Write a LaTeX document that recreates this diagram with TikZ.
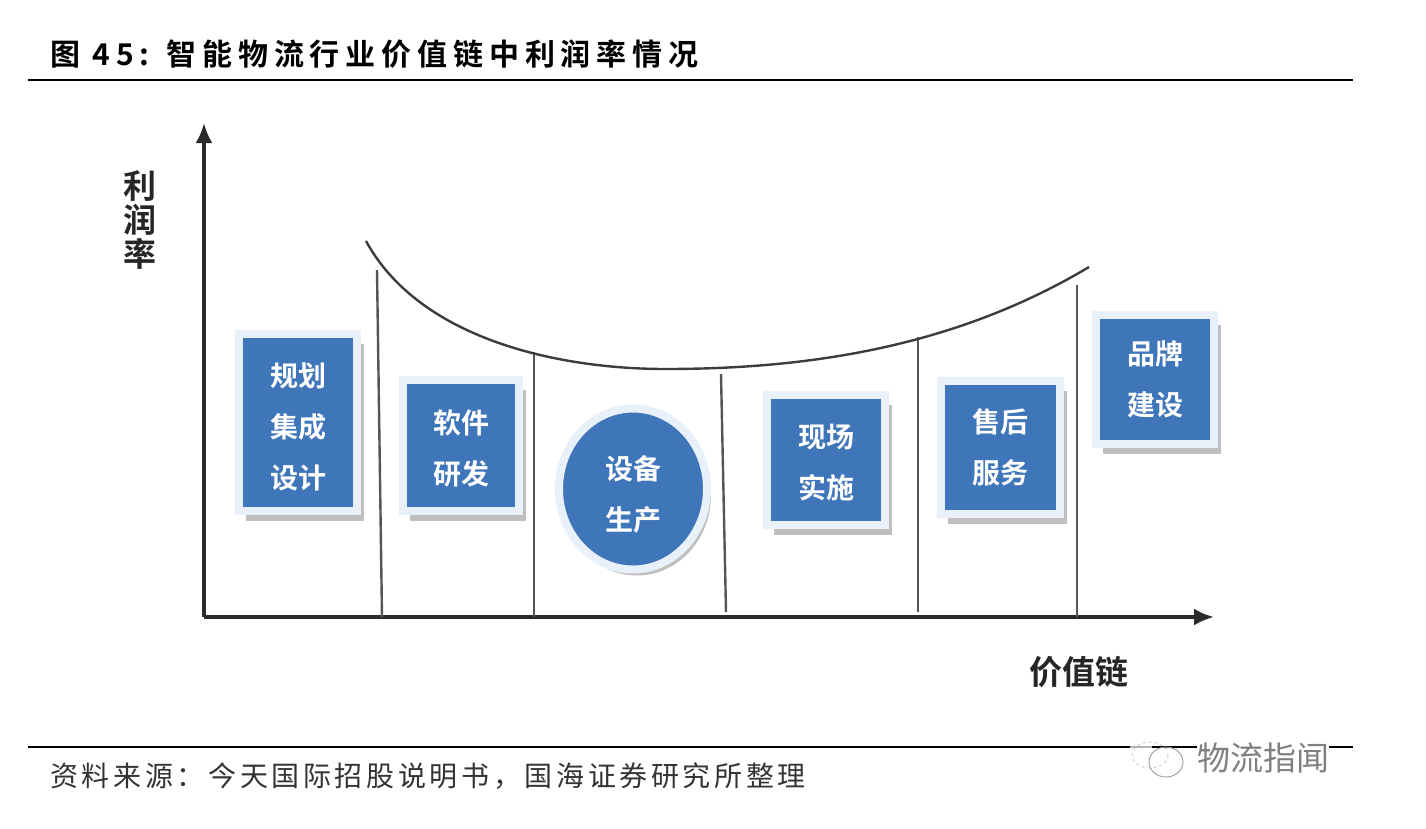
\documentclass[tikz,border=0pt]{standalone}
\usepackage{fontspec}
\setmainfont{Noto Sans CJK SC}
\newfontfamily\titlefont[LetterSpace=19.5]{Noto Sans CJK SC Bold}
\newfontfamily\notefont[LetterSpace=13]{Noto Sans CJK SC}
\newfontfamily\labelfont{Noto Sans CJK SC Bold}
\usetikzlibrary{positioning}
\usetikzlibrary{shadows}
\usetikzlibrary{arrows.meta}
\usetikzlibrary{shapes.geometric}
\definecolor{boxblue}{HTML}{3F76B9}
\definecolor{haloblue}{HTML}{E8F0F9}
\definecolor{axisgray}{HTML}{2A2A2A}
\definecolor{wallgray}{HTML}{555555}
\newcommand{\lowered}[1]{\rule{0pt}{#1}}
\tikzset{
  stagebase/.style={fill=boxblue,draw=haloblue,line width=8pt,outer sep=0pt,inner sep=0pt,
    text=white,align=center,font=\labelfont\fontsize{28}{51}\selectfont},
  stagebox/.style={stagebase,rectangle,
    drop shadow={shadow xshift=7pt,shadow yshift=-10pt,fill=black!25,opacity=1}},
  stageround/.style={stagebase,ellipse,
    drop shadow={shadow xshift=4pt,shadow yshift=-6pt,fill=black!25,opacity=1}},
  axisline/.style={draw=axisgray,line width=3.5pt,-{Latex[length=20pt,width=17pt]}},
  wall/.style={draw=wallgray,line width=2.4pt},
  rule/.style={draw=black,line width=1.2pt},
  axislabel/.style={font=\labelfont\fontsize{33}{34}\selectfont,text=black!85,align=center,inner sep=0pt},
}
\begin{document}
\begin{tikzpicture}[x=1pt,y=-1pt]
\useasboundingbox (0,0) rectangle (1426,828);
% heading and source
\node[font=\titlefont\fontsize{30}{32}\selectfont,anchor=west,inner sep=0pt] (heading) at (50,54) {图 45: 智能物流行业价值链中利润率情况};
\coordinate (topl) at (28,80);
\coordinate (topr) at (1353,80);
\draw[rule] (topl) -- (topr);
\coordinate (botl) at (28,747);
\coordinate (botr) at (1353,747);
\draw[rule] (botl) -- (botr);
\node[font=\notefont\fontsize{28}{32}\selectfont,text=black!80,anchor=west,inner sep=0pt] (source) at (50,776) {资料来源\symbol{"FF1A}今天国际招股说明书\symbol{"FF0C}国海证券研究所整理};
% axes
\coordinate (origin) at (204,617);
\coordinate (ytop) at (204,123);
\coordinate (xend) at (1214,617);
\draw[axisline] (origin) -- (ytop);
\draw[axisline] (origin) -- (xend);
\node[axislabel] (ylabel) at (140,220) {利\\润\\率};
\node[axislabel] (xlabel) at (1079,672) {价值链};
% walls
\foreach \name/\xa/\ya/\xb/\yb in {a/377/270/382/617,b/534/352/534/617,c/721/374/726/612,d/918/337/918/612,e/1077/285/1077/617}{
\coordinate (wall\name top) at (\xa,\ya);
\coordinate (wall\name bot) at (\xb,\yb);
\draw[wall] (wall\name top) -- (wall\name bot);
}
% profit curve
\coordinate (curvel) at (366,241);
\coordinate (curver) at (1089,267);
\draw[draw=wallgray!70!black,line width=2.4pt] (curvel) .. controls (420,340) and (560,369) .. (665,369) .. controls (800,369) and (950,350) .. (curver);
% stages
\node[stagebox,minimum width=118pt,minimum height=177pt] (plan) at (298,422.5) {\lowered{33pt}规划\\集成\\设计};
\node[stagebox,minimum width=116pt,minimum height=131pt] (soft) at (461,445.5) {\lowered{29pt}软件\\研发};
\node[stageround,minimum width=148pt,minimum height=161pt] (equip) at (633,489) {\lowered{35pt}设备\\生产};
\node[stagebox,minimum width=118pt,minimum height=130pt] (site) at (826,460) {\lowered{29pt}现场\\实施};
\node[stagebox,minimum width=119pt,minimum height=133pt] (service) at (1000.5,447.5) {售后\\服务};
\node[stagebox,minimum width=118pt,minimum height=129pt] (brand) at (1155,379.5) {品牌\\建设};
% watermark
\fill[white,opacity=0.7] (1130,744) rectangle (1152,750);
\node[font=\fontsize{33}{36}\selectfont,text=black!50,fill=white,inner sep=0pt] (mark) at (1263,758) {物流指闻};
\draw[black!22,line width=0.8pt,dashed] (1150,755) ellipse (18 and 13);
\draw[black!40,line width=0.9pt] (1166,762) ellipse (17 and 15);
\end{tikzpicture}
\end{document}
